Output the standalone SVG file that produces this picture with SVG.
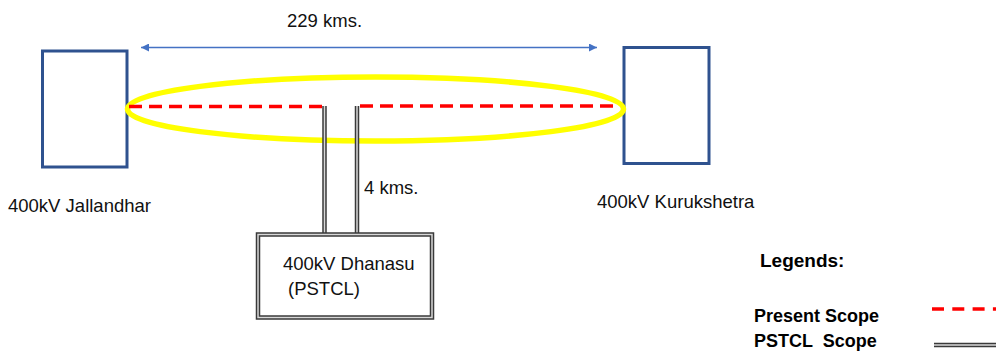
<svg xmlns="http://www.w3.org/2000/svg" width="996" height="351" viewBox="0 0 996 351">
<defs>
<style>
.t{font-family:"Liberation Sans",Arial,sans-serif;font-size:18.5px;fill:#111}
.b{font-family:"Liberation Sans",Arial,sans-serif;font-size:18px;font-weight:bold;fill:#000}
.sub{fill:#fff;stroke:#2F528F;stroke-width:3}
.red{stroke:#FF0000;stroke-width:3.5;stroke-dasharray:13 7;fill:none}
.dblo{stroke:#3a3a3a;stroke-width:4.5;fill:none}
.dbli{stroke:#d8d8d8;stroke-width:1.5;fill:none}
</style>
<marker id="ah" viewBox="0 0 10 10" refX="10" refY="5" markerWidth="9" markerHeight="8" markerUnits="userSpaceOnUse" orient="auto-start-reverse">
<path d="M0,0 L10,5 L0,10 z" fill="#4472C4"/>
</marker>
</defs>
<rect width="996" height="351" fill="#fff"/>

<g id="jallandhar">
<rect class="sub" x="42.5" y="51" width="84.5" height="116"/>
<text class="t" x="8" y="212">400kV Jallandhar</text>
</g>
<g id="kurukshetra">
<rect class="sub" x="624" y="47.5" width="85" height="116"/>
<text class="t" x="597" y="208">400kV Kurukshetra</text>
</g>

<g id="scope-ellipse">
<ellipse cx="375.5" cy="109" rx="248" ry="32" fill="none" stroke="#FFFF00" stroke-width="5.5"/>
</g>

<g id="connectors">
<line x1="141" y1="47.5" x2="597" y2="47.5" stroke="#4472C4" stroke-width="1.5" marker-start="url(#ah)" marker-end="url(#ah)"/>
<text class="t" x="287" y="27">229 kms.</text>
<line class="dblo" x1="324.5" y1="106" x2="324.5" y2="234"/>
<line class="dbli" x1="324.5" y1="106" x2="324.5" y2="234"/>
<line class="dblo" x1="357" y1="106" x2="357" y2="234"/>
<line class="dbli" x1="357" y1="106" x2="357" y2="234"/>
<line class="red" x1="129" y1="106.5" x2="322" y2="106.5"/>
<line class="red" x1="360" y1="106" x2="620" y2="106"/>
<text class="t" x="364" y="194">4 kms.</text>
</g>

<g id="dhanasu">
<rect x="258" y="234.5" width="174" height="83" fill="#fff" class="dblo"/>
<rect x="258" y="234.5" width="174" height="83" class="dbli"/>
<text class="t" x="283" y="270">400kV Dhanasu</text>
<text class="t" x="288" y="295">(PSTCL)</text>
</g>

<g id="legend">
<text class="b" x="760" y="267" style="font-size:19px">Legends:</text>
<text class="b" x="754" y="322">Present Scope</text>
<text class="b" x="754" y="347" xml:space="preserve">PSTCL  Scope</text>
<line class="red" x1="932" y1="309" x2="996" y2="309" style="stroke-dasharray:12 8.3"/>
<line class="dblo" x1="934" y1="345" x2="996" y2="345"/>
<line class="dbli" x1="934" y1="345" x2="996" y2="345"/>
</g>
</svg>
